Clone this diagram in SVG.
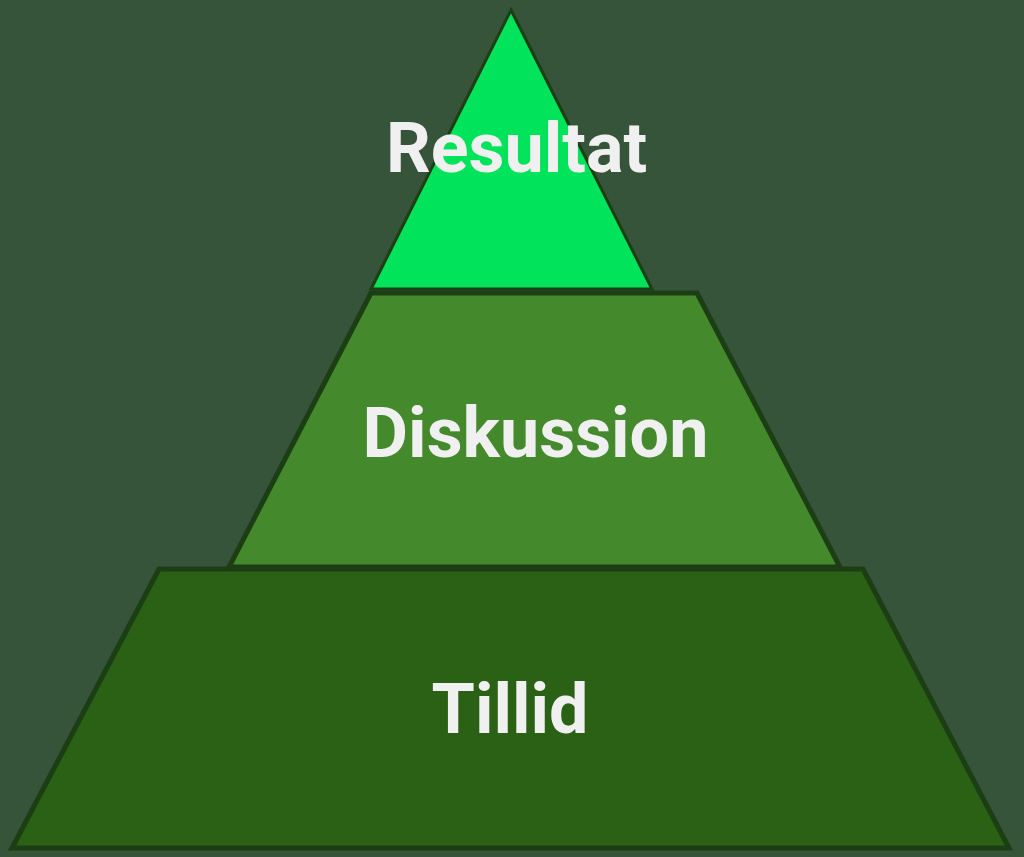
<svg xmlns="http://www.w3.org/2000/svg" width="1024" height="857" viewBox="0 0 1024 857">
<style>
.lbl{font-family:Roboto,"Liberation Sans",sans-serif;font-weight:bold;font-size:70px;fill:#f0f0f0;text-anchor:middle}
.shape{stroke:#1c3e14;stroke-linejoin:miter}
</style>
<rect width="1024" height="857" fill="#36543a"/>
<g id="tier-bottom">
<polygon class="shape" points="159,569 863,569 1009,848 12,848" fill="#2a6114" stroke-width="5"/>
<text class="lbl" x="510" y="733">Tillid</text>
</g>
<g id="tier-middle">
<polygon class="shape" points="371,293 697,293 840,567 229,567" fill="#448a2c" stroke-width="5"/>
<text class="lbl" x="535.5" y="457">Diskussion</text>
</g>
<g id="tier-top">
<polygon class="shape" points="511,10 652,289 371,289" fill="#00e35a" stroke-width="3"/>
<text class="lbl" x="516.5" y="172">Resultat</text>
</g>
<g id="connectors"/>
</svg>
